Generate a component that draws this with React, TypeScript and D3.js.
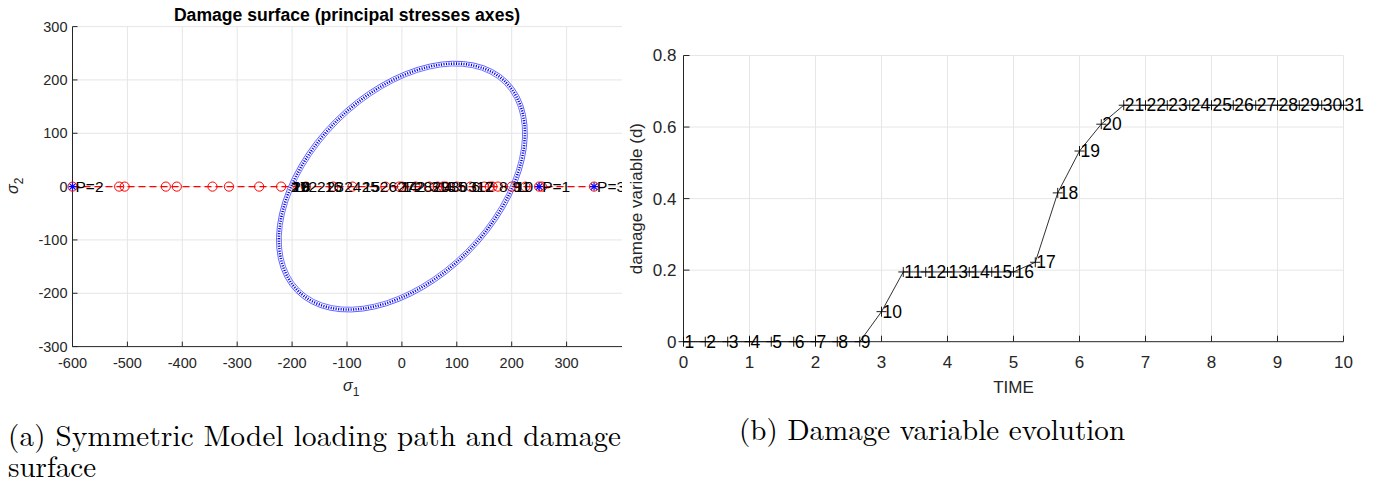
import React from 'react';
import * as d3 from 'd3';

// loading path: effective stress at each step (sigma_2 = 0)
const STEPS = [1, 2, 3, 4, 5, 6, 7, 8, 9, 10, 11, 12, 13, 14, 15, 16, 17, 18, 19, 20, 21, 22, 23, 24, 25, 26, 27, 28, 29, 30, 31];
const SIGMA_EFF = [0, 25, 50, 75, 100, 125, 150, 175, 200, 225, 250, 165, 80, -5, -90, -175, -260, -345, -430, -515, -600, -505, -410, -315, -220, -125, -30, 65, 160, 255, 350];
// label positions (nominal stress)
const SIGMA_NOM = [0, 25, 50, 75, 100, 125, 150, 175, 200, 206, 203, 134, 65, -4, -73, -142, -203, -200, -202, -201, -204, -172, -139, -107, -75, -42, -10, 22, 54, 87, 119];
const PEAK_SIGMA = [250, -600, 350];
const PEAK_NAMES = ['P=1', 'P=2', 'P=3'];

// damage surface (ellipse in principal stress space)
const ELLIPSE_AXES = [272, 171];
const ELLIPSE_ANGLE = 45;

// damage evolution
const TIME = [0, 0.33, 0.67, 1, 1.33, 1.67, 2, 2.33, 2.67, 3, 3.33, 3.67, 4, 4.33, 4.67, 5, 5.33, 5.67, 6, 6.33, 6.67, 7, 7.33, 7.67, 8, 8.33, 8.67, 9, 9.33, 9.67, 10];
const DAMAGE = [0, 0, 0, 0, 0, 0, 0, 0, 0, 0.084, 0.195, 0.195, 0.195, 0.195, 0.195, 0.195, 0.222, 0.416, 0.533, 0.608, 0.661, 0.661, 0.661, 0.661, 0.661, 0.661, 0.661, 0.661, 0.661, 0.661, 0.661];

const S1_TICKS = [-600, -500, -400, -300, -200, -100, 0, 100, 200, 300];
const S2_TICKS = [-300, -200, -100, 0, 100, 200, 300];
const T_TICKS = [0, 1, 2, 3, 4, 5, 6, 7, 8, 9, 10];
const D_TICKS = [0, 0.2, 0.4, 0.6, 0.8];

const FONT = '"Liberation Sans", Arial, Helvetica, sans-serif';
const SERIF = '"Latin Modern Roman", "DejaVu Serif", "Liberation Serif", serif';
const AX = '#262626';
const GRID = '#e6e6e6';

const LeftPlot = () => {
  const x = d3.scaleLinear().domain([-600, 400]).range([72.5, 621.5]);
  const y = d3.scaleLinear().domain([-300, 300]).range([346.6, 26.6]);
  const k = ((x(100) - x(0)) + (y(0) - y(100))) / 200;
  const rx = ELLIPSE_AXES[0] * k;
  const ry = ELLIPSE_AXES[1] * k;
  const [lo, hi] = d3.extent(SIGMA_EFF) as [number, number];
  return (
    <g>
      <defs>
        <clipPath id="leftclip">
          <rect x={0} y={0} width={622} height={486} />
        </clipPath>
      </defs>
      <g clipPath="url(#leftclip)">
        {S1_TICKS.filter(t => t > -600).map(t => (
          <line key={t} x1={x(t)} x2={x(t)} y1={y(300)} y2={y(-300)} stroke={GRID} />
        ))}
        {S2_TICKS.filter(t => t > -300).map(t => (
          <line key={t} x1={x(-600)} x2={622} y1={y(t)} y2={y(t)} stroke={GRID} />
        ))}
        <line x1={x(-600)} x2={622} y1={y(-300)} y2={y(-300)} stroke={AX} />
        <line x1={x(-600)} x2={x(-600)} y1={y(300)} y2={y(-300)} stroke={AX} />
        {S1_TICKS.map(t => (
          <g key={t}>
            <line x1={x(t)} x2={x(t)} y1={y(-300)} y2={y(-300) - 5} stroke={AX} />
            <text x={x(t)} y={y(-300) + 16} textAnchor="middle" dy="0.35em" fontSize={14.5} fill={AX}>{t}</text>
          </g>
        ))}
        {S2_TICKS.map(t => (
          <g key={t}>
            <line x1={x(-600)} x2={x(-600) + 5} y1={y(t)} y2={y(t)} stroke={AX} />
            <text x={x(-600) - 5} y={y(t)} textAnchor="end" dy="0.35em" fontSize={14.5} fill={AX}>{t}</text>
          </g>
        ))}

        {/* damage surface */}
        <g transform={`translate(${x(0)},${y(0)}) rotate(${-ELLIPSE_ANGLE})`} fill="none">
          <ellipse rx={rx + 2.5} ry={ry + 2.5} stroke="#5a5aff" strokeWidth={0.9} />
          <ellipse rx={rx - 2.3} ry={ry - 2.3} stroke="#5a5aff" strokeWidth={0.8} />
          <ellipse rx={rx} ry={ry} stroke="#0000ee" strokeWidth={2.6} strokeDasharray="1.1 1.4" />
        </g>

        {/* loading path */}
        <line x1={x(lo)} x2={x(hi)} y1={y(0)} y2={y(0)} stroke="#ff0000" strokeWidth={1.3} strokeDasharray="7 4" />
        {SIGMA_EFF.map((s, i) => (
          <circle key={i} cx={x(s)} cy={y(0)} r={4.6} fill="none" stroke="#ff0000" strokeWidth={1} />
        ))}
        {PEAK_SIGMA.map((s, i) => (
          <g key={i} stroke="#0000ff" strokeWidth={1.2}>
            <line x1={x(s) - 4} x2={x(s) + 4} y1={y(0)} y2={y(0)} />
            <line x1={x(s)} x2={x(s)} y1={y(0) - 4} y2={y(0) + 4} />
            <line x1={x(s) - 3} x2={x(s) + 3} y1={y(0) - 3} y2={y(0) + 3} />
            <line x1={x(s) - 3} x2={x(s) + 3} y1={y(0) + 3} y2={y(0) - 3} />
          </g>
        ))}
        {SIGMA_NOM.map((s, i) => (
          <text key={i} x={x(s) + 1} y={y(0)} dy="0.35em" fontSize={15.5} fill="#000">{STEPS[i]}</text>
        ))}
        {PEAK_SIGMA.map((s, i) => (
          <text key={i} x={x(s) + 3} y={y(0)} dy="0.35em" fontSize={15.5} fill="#000">{PEAK_NAMES[i]}</text>
        ))}
      </g>

      <text x={347} y={15} textAnchor="middle" dy="0.35em" fontSize={17.6} fontWeight="bold" fill="#000">
        Damage surface (principal stresses axes)
      </text>
      <text x={343} y={391} fontSize={16} fill={AX}>
        <tspan fontStyle="italic">σ</tspan>
        <tspan dy={5} fontSize={12}>1</tspan>
      </text>
      <text transform="translate(18,194) rotate(-90)" fontSize={16} fill={AX}>
        <tspan fontStyle="italic">σ</tspan>
        <tspan dy={5} fontSize={12}>2</tspan>
      </text>
    </g>
  );
};

const RightPlot = () => {
  const x = d3.scaleLinear().domain([0, 10]).range([683.5, 1343.5]);
  const y = d3.scaleLinear().domain([0, 0.8]).range([341.7, 55.5]);
  const line = d3.line<number>().x((_, i) => x(TIME[i])).y(d => y(d));
  return (
    <g>
      {T_TICKS.filter(t => t > 0).map(t => (
        <line key={t} x1={x(t)} x2={x(t)} y1={y(0.8)} y2={y(0)} stroke={GRID} />
      ))}
      {D_TICKS.filter(t => t > 0).map(t => (
        <line key={t} x1={x(0)} x2={x(10)} y1={y(t)} y2={y(t)} stroke={GRID} />
      ))}
      <line x1={x(0)} x2={x(10)} y1={y(0)} y2={y(0)} stroke={AX} />
      <line x1={x(0)} x2={x(0)} y1={y(0.8)} y2={y(0)} stroke={AX} />
      {T_TICKS.map(t => (
        <g key={t}>
          <line x1={x(t)} x2={x(t)} y1={y(0)} y2={y(0) - 6} stroke={AX} />
          <text x={x(t)} y={y(0) + 20} textAnchor="middle" dy="0.35em" fontSize={17} fill={AX}>{t}</text>
        </g>
      ))}
      {D_TICKS.map(t => (
        <g key={t}>
          <line x1={x(0)} x2={x(0) + 6} y1={y(t)} y2={y(t)} stroke={AX} />
          <text x={x(0) - 7} y={y(t)} textAnchor="end" dy="0.35em" fontSize={17} fill={AX}>{t}</text>
        </g>
      ))}
      <path d={line(DAMAGE) || ''} fill="none" stroke="#1a1a1a" strokeWidth={0.9} />
      {DAMAGE.map((d, i) => (
        <g key={i}>
          <path d={`M${x(TIME[i]) - 5},${y(d)}H${x(TIME[i]) + 5}M${x(TIME[i])},${y(d) - 5}V${y(d) + 5}`} stroke="#000" strokeWidth={0.9} />
          <text x={x(TIME[i]) + 1} y={y(d)} dy="0.35em" fontSize={17.5} fill="#000">{STEPS[i]}</text>
        </g>
      ))}
      <text x={(x(0) + x(10)) / 2} y={387} textAnchor="middle" dy="0.35em" fontSize={17} fill={AX}>TIME</text>
      <text transform={`translate(636,${(y(0) + y(0.8)) / 2}) rotate(-90)`} textAnchor="middle" dy="0.35em" fontSize={17} fill={AX}>
        damage variable (d)
      </text>
    </g>
  );
};

export default function App() {
  return (
    <div style={{ position: 'absolute', left: 0, top: 0 }}>
      <svg width={1379} height={486} style={{ display: 'block', background: '#fff', fontFamily: FONT }}>
        <LeftPlot />
        <RightPlot />
        <g fontFamily={SERIF} fill="#000" fontSize={29}>
          <text x={8} y={446} textLength={613} lengthAdjust="spacing">(a) Symmetric Model loading path and damage</text>
          <text x={8} y={477}>surface</text>
          <text x={739} y={440} textLength={386} lengthAdjust="spacing">(b) Damage variable evolution</text>
        </g>
      </svg>
    </div>
  );
}
